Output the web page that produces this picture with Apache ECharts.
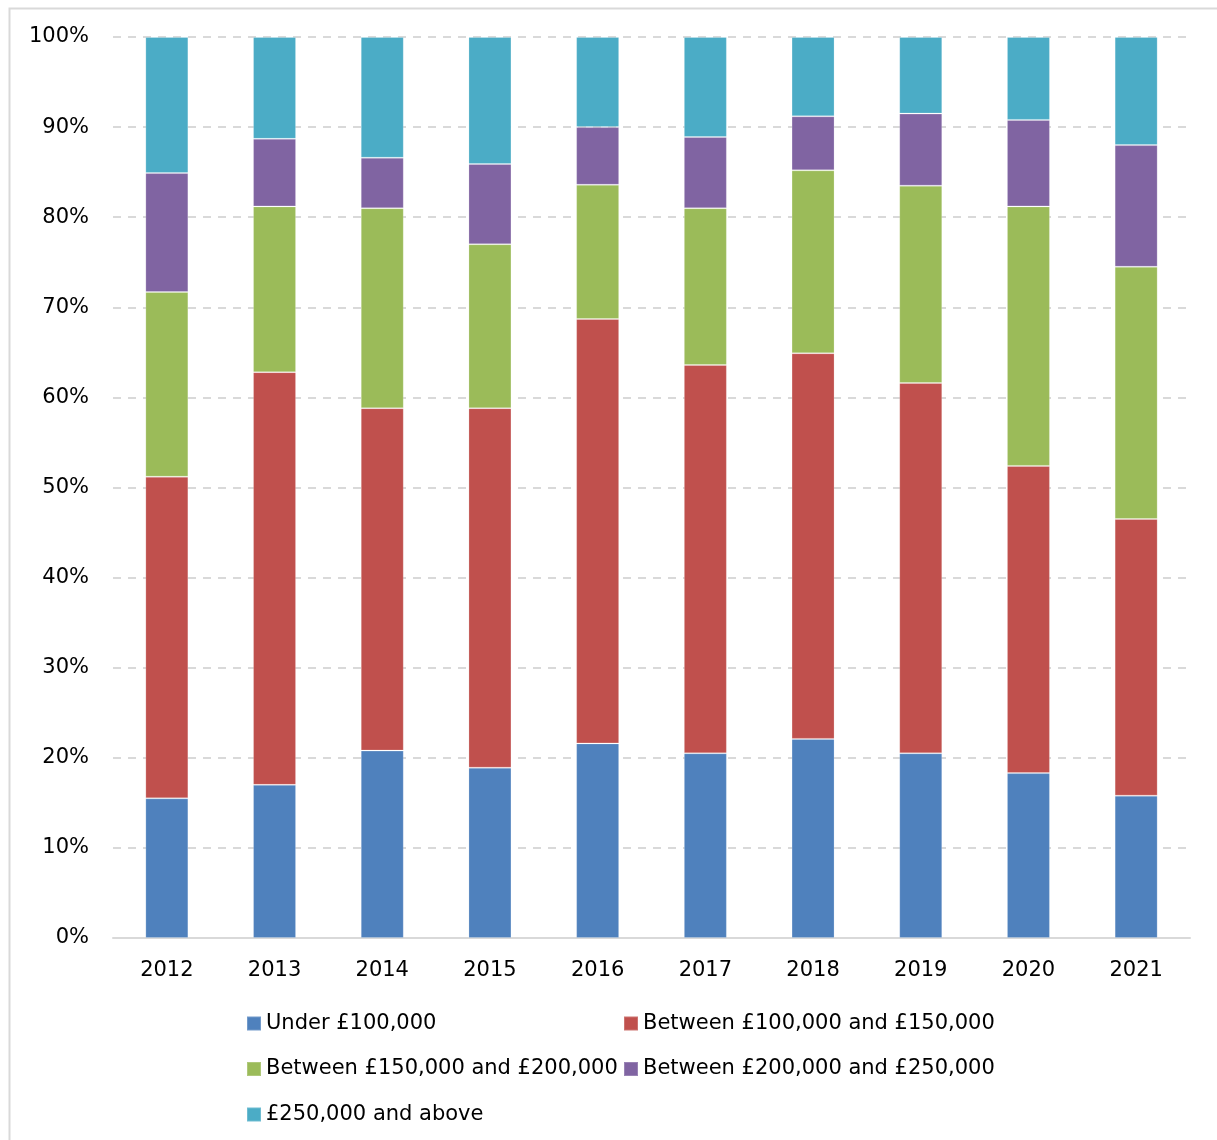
<!DOCTYPE html>
<html>
<head>
<meta charset="utf-8">
<script src="https://cdn.jsdelivr.net/npm/echarts@6/dist/echarts.min.js"></script>
<style>
  html, body { margin: 0; padding: 0; background: #fff; }
  #chart { width: 1217px; height: 1140px; }
</style>
</head>
<body>
<div id="chart"></div>
<script>
  var years = ['2012', '2013', '2014', '2015', '2016', '2017', '2018', '2019', '2020', '2021']
  var seriesNames = [
    'Under £100,000',
    'Between £100,000 and £150,000',
    'Between £150,000 and £200,000',
    'Between £200,000 and £250,000',
    '£250,000 and above'
  ]
  // percentage share per year
  var under100k = [15.5, 17.0, 20.8, 18.9, 21.6, 20.5, 22.1, 20.5, 18.3, 15.8]
  var from100to150k = [35.7, 45.8, 38.0, 39.9, 47.1, 43.1, 42.8, 41.1, 34.1, 30.7]
  var from150to200k = [20.5, 18.4, 22.2, 18.2, 14.9, 17.4, 20.3, 21.9, 28.8, 28.0]
  var from200to250k = [13.2, 7.5, 5.6, 8.9, 6.4, 7.9, 6.0, 8.0, 9.6, 13.5]
  var over250k = [15.1, 11.3, 13.4, 14.1, 10.0, 11.1, 8.8, 8.5, 9.2, 12.0]
  var colors = ['#4F81BD', '#C0504D', '#9BBB59', '#8064A2', '#4BACC6']

  var values = [under100k, from100to150k, from150to200k, from200to250k, over250k]
  var font = 'DejaVu Sans, Verdana, sans-serif'

  var chart = echarts.init(document.getElementById('chart'))
  chart.setOption({
    animation: false,
    color: colors,
    textStyle: { fontFamily: font },
    graphic: [{
      type: 'rect',
      shape: { x: 9.5, y: 8.5, width: 1230, height: 1150 },
      style: { fill: 'none', stroke: '#d9d9d9', lineWidth: 2 },
      silent: true
    }],
    grid: { left: 113, right: 27, top: 37, bottom: 202 },
    legend: [{
      orient: 'vertical',
      left: 241,
      top: 1008,
      itemWidth: 14,
      itemHeight: 14,
      itemGap: 24.5,
      icon: 'rect',
      textStyle: { fontSize: 21, lineHeight: 20, color: '#000', fontFamily: font },
      data: [seriesNames[0], seriesNames[2], seriesNames[4]]
    }, {
      orient: 'vertical',
      left: 618,
      top: 1008,
      itemWidth: 14,
      itemHeight: 14,
      itemGap: 24.5,
      icon: 'rect',
      textStyle: { fontSize: 21, lineHeight: 20, color: '#000', fontFamily: font },
      data: [seriesNames[1], seriesNames[3]]
    }],
    xAxis: {
      type: 'category',
      data: years,
      axisLine: { lineStyle: { color: '#d9d9d9', width: 2 } },
      axisTick: { show: false },
      axisLabel: { fontSize: 21, color: '#000', margin: 22, fontFamily: font }
    },
    yAxis: {
      type: 'value',
      min: 0,
      max: 100,
      interval: 10,
      axisLine: { show: false },
      axisTick: { show: false },
      axisLabel: { fontSize: 21, color: '#000', margin: 24, formatter: '{value}%', fontFamily: font },
      splitLine: { lineStyle: { color: '#d9d9d9', width: 2, type: [8, 7] } }
    },
    series: seriesNames.map(function (name, i) {
      return {
        name: name,
        type: 'bar',
        stack: 'total',
        barWidth: 43,
        itemStyle: { color: colors[i], borderColor: 'rgba(255,255,255,0.2)', borderWidth: 1 },
        data: values[i]
      }
    })
  })
</script>
</body>
</html>
